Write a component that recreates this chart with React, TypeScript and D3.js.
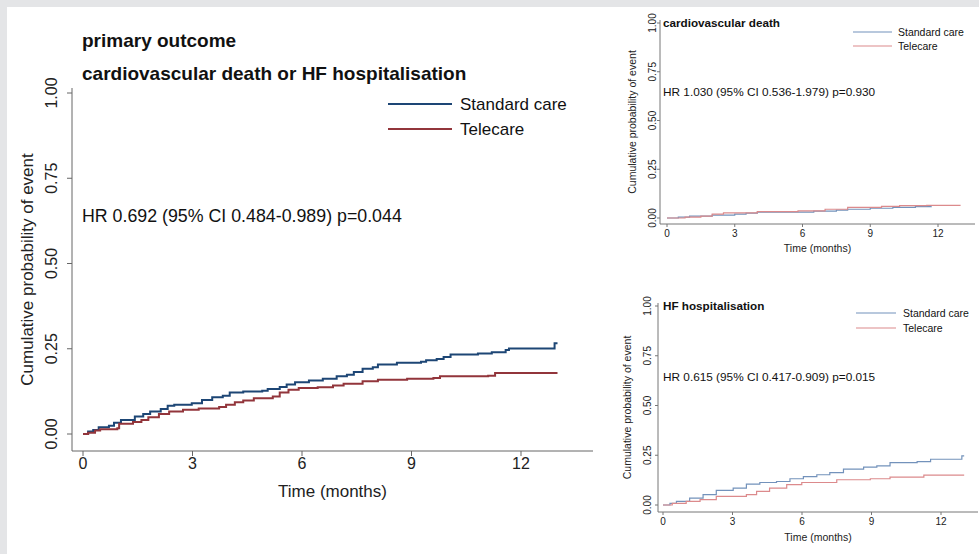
import * as d3 from "d3";

// Kaplan-Meier style step data: [month, cumulative probability]
const primaryStandard: [number, number][] = [
  [0, 0], [0.14, 0.007], [0.28, 0.012], [0.43, 0.02], [0.71, 0.024], [0.85, 0.033],
  [1.04, 0.041], [1.42, 0.051], [1.65, 0.059], [1.84, 0.066], [2.13, 0.073], [2.32, 0.083],
  [2.5, 0.086], [2.98, 0.09], [3.26, 0.1], [3.54, 0.108], [3.83, 0.112], [4.02, 0.122],
  [4.39, 0.125], [4.91, 0.127], [5.06, 0.132], [5.39, 0.138], [5.58, 0.145], [5.81, 0.152],
  [6.19, 0.157], [6.57, 0.162], [6.95, 0.169], [7.23, 0.174], [7.42, 0.182], [7.66, 0.191],
  [7.94, 0.196], [8.08, 0.204], [8.6, 0.209], [9.26, 0.212], [9.4, 0.216], [9.69, 0.22],
  [9.88, 0.226], [10.07, 0.233], [10.82, 0.236], [11.2, 0.24], [11.58, 0.246], [11.67, 0.251],
  [12.92, 0.266], [13.0, 0.266],
];
const primaryTelecare: [number, number][] = [
  [0, 0], [0.14, 0.004], [0.33, 0.01], [0.47, 0.014], [0.94, 0.017], [0.99, 0.03],
  [1.37, 0.035], [1.6, 0.041], [1.79, 0.049], [2.08, 0.059], [2.36, 0.066], [2.74, 0.071],
  [3.17, 0.075], [3.73, 0.079], [3.92, 0.086], [4.16, 0.093], [4.39, 0.098], [4.68, 0.105],
  [5.2, 0.11], [5.39, 0.122], [5.63, 0.13], [5.91, 0.135], [6.43, 0.137], [6.85, 0.142],
  [7.14, 0.147], [7.66, 0.155], [8.08, 0.159], [8.88, 0.162], [9.6, 0.164], [9.78, 0.169],
  [11.1, 0.171], [11.29, 0.179], [13.0, 0.179],
];
const cvStandard: [number, number][] = [
  [0, 0], [0.5, 0.005], [1.0, 0.01], [2.0, 0.015], [3.0, 0.02], [3.5, 0.025], [4.0, 0.03],
  [6.5, 0.035], [7.5, 0.04], [8.0, 0.045], [9.0, 0.05], [10.0, 0.055], [11.0, 0.058], [11.7, 0.06],
];
const cvTelecare: [number, number][] = [
  [0, 0], [0.8, 0.005], [1.5, 0.01], [2.0, 0.02], [2.5, 0.026], [4.0, 0.033], [5.8, 0.037],
  [7.0, 0.045], [8.0, 0.055], [9.5, 0.06], [10.3, 0.063], [11.5, 0.065], [13.0, 0.065],
];
const hfStandard: [number, number][] = [
  [0, 0], [0.3, 0.008], [0.58, 0.018], [1.15, 0.035], [1.73, 0.052], [2.3, 0.073], [3.03, 0.085],
  [3.6, 0.105], [4.18, 0.113], [4.9, 0.118], [5.48, 0.132], [6.06, 0.143], [6.64, 0.152],
  [7.2, 0.163], [7.79, 0.18], [8.66, 0.19], [9.23, 0.197], [9.8, 0.213], [10.97, 0.218],
  [11.55, 0.23], [12.9, 0.247], [13.0, 0.247],
];
const hfTelecare: [number, number][] = [
  [0, 0], [0.4, 0.008], [1.0, 0.018], [1.6, 0.027], [2.3, 0.043], [3.6, 0.052], [4.04, 0.068],
  [4.6, 0.085], [5.34, 0.102], [5.99, 0.113], [7.5, 0.127], [8.95, 0.132], [9.8, 0.14],
  [11.26, 0.15], [13.0, 0.15],
];

const xTicks = [0, 3, 6, 9, 12];
const yTicks = [0, 0.25, 0.5, 0.75, 1];
const legendLabels = ["Standard care", "Telecare"];

const FONT = "'Liberation Sans', Arial, Helvetica, sans-serif";

type Panel = {
  titles: string[];
  hr: string;
  std: [number, number][];
  tele: [number, number][];
  colors: [string, string];
  lineW: number;
  x0: number; x12: number; y0: number; y1: number;
  axisLeft: number; axisTop: number; axisBottom: number; axisRight: number;
  tickLen: number; tickFs: number; yTickX: number; xTickY: number;
  yTitleX: number; xTitleY: number; titleFs: number; axisTitleFs: number;
  textX: number; titleY: number[]; hrY: number; hrFs: number;
  legX1: number; legX2: number; legTextX: number; legY: number[]; legFs: number;
  axisColor: string;
};

function KMPanel({ p }: { p: Panel }) {
  const x = d3.scaleLinear().domain([0, 12]).range([p.x0, p.x12]);
  const y = d3.scaleLinear().domain([0, 1]).range([p.y0, p.y1]);
  const line = d3
    .line<[number, number]>()
    .x((d) => x(d[0]))
    .y((d) => y(d[1]))
    .curve(d3.curveStepAfter);
  const yMid = (p.axisTop + p.axisBottom) / 2;
  const xMid = (p.axisLeft + p.axisRight) / 2;
  return (
    <g fontFamily={FONT}>
      {p.titles.map((t, i) => (
        <text key={t} x={p.textX} y={p.titleY[i]} fontSize={p.titleFs} fontWeight="bold" fill="#111">
          {t}
        </text>
      ))}
      {/* axes */}
      <line x1={p.axisLeft} x2={p.axisLeft} y1={p.axisTop} y2={p.axisBottom} stroke={p.axisColor} />
      <line x1={p.axisLeft} x2={p.axisRight} y1={p.axisBottom} y2={p.axisBottom} stroke={p.axisColor} />
      {yTicks.map((t) => (
        <g key={"y" + t}>
          <line x1={p.axisLeft - p.tickLen} x2={p.axisLeft} y1={y(t)} y2={y(t)} stroke={p.axisColor} />
          <text
            transform={`translate(${p.yTickX},${y(t)}) rotate(-90)`}
            textAnchor="middle"
            fontSize={p.tickFs}
            fill="#222"
          >
            {d3.format(".2f")(t)}
          </text>
        </g>
      ))}
      {xTicks.map((t) => (
        <g key={"x" + t}>
          <line x1={x(t)} x2={x(t)} y1={p.axisBottom} y2={p.axisBottom + p.tickLen} stroke={p.axisColor} />
          <text x={x(t)} y={p.xTickY} textAnchor="middle" fontSize={p.tickFs} fill="#222">
            {t}
          </text>
        </g>
      ))}
      <text
        transform={`translate(${p.yTitleX},${yMid}) rotate(-90)`}
        textAnchor="middle"
        fontSize={p.axisTitleFs}
        fill="#222"
      >
        Cumulative probability of event
      </text>
      <text x={xMid} y={p.xTitleY} textAnchor="middle" fontSize={p.axisTitleFs} fill="#222">
        Time (months)
      </text>
      <text x={p.textX} y={p.hrY} fontSize={p.hrFs} fill="#111">
        {p.hr}
      </text>
      {/* legend */}
      {legendLabels.map((l, i) => (
        <g key={l}>
          <line x1={p.legX1} x2={p.legX2} y1={p.legY[i]} y2={p.legY[i]} stroke={p.colors[i]} strokeWidth={p.lineW} />
          <text x={p.legTextX} y={p.legY[i]} dy="0.35em" fontSize={p.legFs} fill="#111">
            {l}
          </text>
        </g>
      ))}
      <path d={line(p.std) ?? ""} fill="none" stroke={p.colors[0]} strokeWidth={p.lineW} />
      <path d={line(p.tele) ?? ""} fill="none" stroke={p.colors[1]} strokeWidth={p.lineW} />
    </g>
  );
}

const mainPanel: Panel = {
  titles: ["primary outcome", "cardiovascular death or HF hospitalisation"],
  hr: "HR 0.692 (95% CI 0.484-0.989) p=0.044",
  std: primaryStandard,
  tele: primaryTelecare,
  colors: ["#1d4675", "#92353b"],
  lineW: 2,
  x0: 83, x12: 521, y0: 434, y1: 93,
  axisLeft: 72, axisTop: 88, axisBottom: 451, axisRight: 593,
  tickLen: 5, tickFs: 16, yTickX: 57, xTickY: 469,
  yTitleX: 33, xTitleY: 497, titleFs: 19, axisTitleFs: 17,
  textX: 82, titleY: [47, 80], hrY: 222, hrFs: 17.8,
  legX1: 388, legX2: 452, legTextX: 460, legY: [104, 129], legFs: 17,
  axisColor: "#666",
};

const cvPanel: Panel = {
  titles: ["cardiovascular death"],
  hr: "HR 1.030 (95% CI 0.536-1.979) p=0.930",
  std: cvStandard,
  tele: cvTelecare,
  colors: ["#7392bb", "#dc8a8c"],
  lineW: 1.2,
  x0: 667, x12: 938, y0: 218, y1: 23,
  axisLeft: 660, axisTop: 20, axisBottom: 224, axisRight: 975,
  tickLen: 3, tickFs: 10, yTickX: 656, xTickY: 237,
  yTitleX: 636, xTitleY: 252, titleFs: 11.7, axisTitleFs: 10.5,
  textX: 663, titleY: [27], hrY: 96, hrFs: 11.8,
  legX1: 853, legX2: 892, legTextX: 898, legY: [32, 46], legFs: 10.5,
  axisColor: "#777",
};

const hfPanel: Panel = {
  titles: ["HF hospitalisation"],
  hr: "HR 0.615 (95% CI 0.417-0.909) p=0.015",
  std: hfStandard,
  tele: hfTelecare,
  colors: ["#7392bb", "#dc8a8c"],
  lineW: 1.2,
  x0: 663, x12: 941, y0: 505, y1: 306,
  axisLeft: 658, axisTop: 303, axisBottom: 512, axisRight: 978,
  tickLen: 3, tickFs: 10, yTickX: 651, xTickY: 525,
  yTitleX: 631, xTitleY: 541, titleFs: 11.7, axisTitleFs: 10.5,
  textX: 663, titleY: [310], hrY: 381, hrFs: 11.8,
  legX1: 856, legX2: 896, legTextX: 903, legY: [313, 328], legFs: 10.5,
  axisColor: "#777",
};

export default function App() {
  const w = 979;
  const h = 554;
  return (
    <div style={{ position: "fixed", left: 0, top: 0, width: w, height: h }}>
      <svg width={w} height={h} style={{ display: "block" }}>
        <rect x={0} y={0} width={w} height={h} fill="#e4e5e7" />
        <rect x={7} y={7} width={w - 7} height={h - 7} fill="#fff" />
        <KMPanel p={mainPanel} />
        <KMPanel p={cvPanel} />
        <KMPanel p={hfPanel} />
      </svg>
    </div>
  );
}
